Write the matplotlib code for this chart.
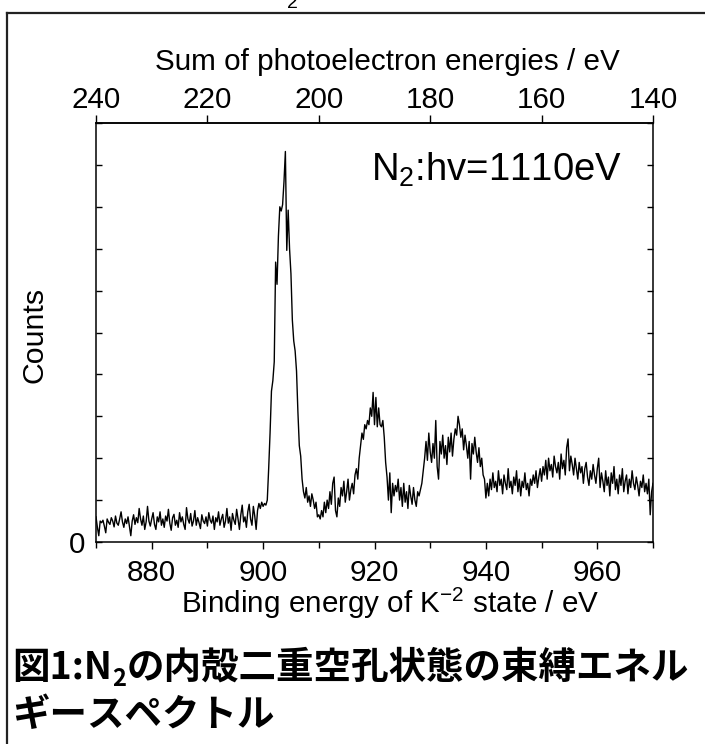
import matplotlib
matplotlib.use('Agg')
import matplotlib.pyplot as plt
import numpy as np
from matplotlib.lines import Line2D

plt.rcParams['font.family'] = ['Liberation Sans', 'DejaVu Sans']
plt.rcParams['mathtext.fontset'] = 'custom'
plt.rcParams['mathtext.rm'] = 'Liberation Sans'
plt.rcParams['mathtext.it'] = 'Liberation Sans:italic'
plt.rcParams['mathtext.bf'] = 'Liberation Sans:bold'

# ---------------- data ----------------
PHOTON_ENERGY = 1110.0
E_START, E_STOP = 870.0, 970.0   # binding energy sampling grid (0.25 eV)

seg870 = [60, 35, 15, 50, 46, 52, 38, 22, 55, 47, 42, 58, 50, 36, 62, 45, 40, 55, 72, 48,
          35, 55, 44, 60, 38, 15, 50, 65, 42, 58, 46, 80, 55, 40, 62, 30, 48, 85, 50, 38]
seg880 = [55, 70, 42, 30, 60, 48, 72, 40, 55, 35, 62, 50, 78, 45, 28, 58, 66, 40, 52, 35,
          70, 48, 60, 42, 30, 82, 55, 45, 68, 38, 50, 75, 40, 58, 46, 32, 65, 50, 44, 60]
seg890 = [38, 70, 52, 45, 62, 30, 58, 48, 72, 40, 55, 66, 35, 50, 80, 45, 60, 28, 68, 52,
          42, 78, 55, 30, 65, 88, 48, 60, 35, 72, 90, 55, 40, 85, 62, 30, 75, 92, 80, 95]
seg900 = [85, 92, 88, 100, 175, 260, 360, 385, 430, 668, 615, 730, 800, 790, 805, 860, 932, 696, 792, 700,
          640, 530, 480, 456, 408, 310, 230, 205, 150, 120, 105, 130, 95, 110, 85, 115, 100, 80, 95, 60]
seg910 = [65, 55, 75, 60, 95, 70, 100, 80, 120, 90, 140, 155, 75, 60, 105, 85, 130, 110, 145, 95,
          120, 150, 100, 125, 140, 115, 160, 175, 150, 200, 230, 260, 245, 280, 270, 290, 280, 320, 300, 357]
seg920 = [280, 345, 275, 320, 280, 275, 290, 250, 190, 155, 100, 165, 70, 140, 110, 135, 120, 150, 100, 130,
          85, 140, 95, 120, 80, 135, 110, 90, 130, 100, 85, 120, 110, 125, 140, 170, 200, 240, 195, 260]
seg930 = [215, 190, 235, 200, 290, 180, 150, 240, 210, 255, 200, 230, 185, 250, 215, 260, 205, 245, 270, 255,
          300, 280, 250, 270, 220, 255, 230, 200, 240, 150, 235, 210, 250, 215, 190, 225, 180, 200, 160, 150]
seg940 = [105, 140, 110, 150, 125, 165, 130, 145, 120, 170, 135, 150, 115, 160, 140, 125, 175, 130, 145, 115,
          155, 135, 170, 120, 150, 110, 145, 130, 165, 125, 140, 110, 150, 135, 160, 140, 170, 130, 155, 175]
seg950 = [145, 180, 160, 195, 150, 200, 170, 185, 155, 205, 180, 165, 190, 150, 210, 175, 195, 160, 225, 246,
          170, 205, 185, 160, 200, 175, 150, 190, 165, 180, 140, 175, 190, 155, 135, 170, 150, 185, 160, 140]
seg960 = [175, 200, 130, 165, 145, 120, 170, 135, 155, 110, 165, 140, 180, 125, 150, 115, 160, 135, 175, 120,
          145, 160, 115, 150, 130, 170, 140, 125, 155, 135, 110, 145, 130, 160, 120, 140, 115, 150, 65, 120, 140]

counts = seg870 + seg880 + seg890 + seg900 + seg910 + seg920 + seg930 + seg940 + seg950 + seg960
energy = np.linspace(E_START, E_STOP, len(counts))

bottom_major = [880, 900, 920, 940, 960]
bottom_minor = [870, 890, 910, 930, 950, 970]
top_ticks = [240, 220, 200, 180, 160, 140]
y_ticks = list(range(0, 1001, 100))
y_labels = ['0'] + [''] * 10

title_text = 'Sum of photoelectron energies / eV'
xlabel_text = r'Binding energy of K$^{-2}$ state / eV'
ylabel_text = 'Counts'
annot_text = r'N$_2$:hv=1110eV'
cap1a, cap1sub, cap1b = '図1:N', '2', 'の内殻二重空孔状態の束縛エネル'
cap2 = 'ギースペクトル'

# ---------------- figure ----------------
W, H = 705, 744
fig = plt.figure(figsize=(W / 100, H / 100), dpi=100)
fig.patch.set_facecolor('white')

def fx(px):
    return px / W

def fy(py):
    return 1 - py / H

FS = 21.3

ax = fig.add_axes([fx(96), fy(542), (653 - 96) / W, (542 - 123) / H])
ax.plot(energy, counts, color='black', lw=1.0)
ax.set_xlim(E_START, E_STOP)
ax.set_ylim(0, 1000)
for s in ax.spines.values():
    s.set_linewidth(1.1)

ax.set_xticks(bottom_major)
ax.set_xticklabels([str(v) for v in bottom_major])
ax.set_xticks(bottom_minor, minor=True)
ax.set_yticks(y_ticks)
ax.set_yticklabels(y_labels)
ax.tick_params(axis='y', direction='in', left=True, right=True, length=4, width=1.0,
               labelsize=FS, pad=8)
ax.tick_params(axis='x', which='major', direction='out', length=5, width=1.0,
               labelsize=FS, pad=7)
ax.tick_params(axis='x', which='minor', direction='out', length=4, width=1.0)

secax = ax.secondary_xaxis('top', functions=(lambda x: PHOTON_ENERGY - x,
                                              lambda s: PHOTON_ENERGY - s))
secax.set_xticks(top_ticks)
secax.set_xticklabels([str(v) for v in top_ticks])
secax.tick_params(direction='out', length=6, width=1.0, labelsize=FS, pad=0.5)
secax.spines['top'].set_linewidth(1.1)

fig.text(fx(387), fy(70), title_text, fontsize=FS, ha='center', va='baseline')
fig.text(fx(390), fy(613), xlabel_text, fontsize=FS, ha='center', va='baseline')
fig.text(fx(35), fy(335), ylabel_text, fontsize=FS + 0.5, ha='center', va='center', rotation=90)
fig.text(fx(622), fy(181), annot_text, fontsize=27.5, ha='right', va='baseline')

# subscript of a preceding line, cut off at the very top edge
fig.text(fx(292), fy(8), '2', fontsize=14, ha='center', va='baseline')

# frame lines (left and top)
fig.add_artist(Line2D([fx(7), fx(7)], [0, fy(13)], transform=fig.transFigure,
                      color='#222222', lw=1.6))
fig.add_artist(Line2D([fx(7), 1.0], [fy(13), fy(13)], transform=fig.transFigure,
                      color='#222222', lw=1.6))

# caption
cjk = ['Noto Sans CJK JP', 'DejaVu Sans']
cap_size = 27
renderer = fig.canvas.get_renderer()
t1 = fig.text(fx(12), fy(679), cap1a, fontsize=cap_size, fontweight='bold', family=cjk,
              ha='left', va='baseline')
bb1 = t1.get_window_extent(renderer)
t2 = fig.text(bb1.x1 / W + 0.0005, fy(686), cap1sub, fontsize=17, fontweight='bold', family=cjk,
              ha='left', va='baseline')
bb2 = t2.get_window_extent(renderer)
fig.text(bb2.x1 / W + 0.001, fy(679), cap1b, fontsize=cap_size, fontweight='bold', family=cjk,
         ha='left', va='baseline')
fig.text(fx(12), fy(726), cap2, fontsize=cap_size, fontweight='bold', family=cjk,
         ha='left', va='baseline')

fig.savefig('out.png', dpi=100, facecolor='white')
